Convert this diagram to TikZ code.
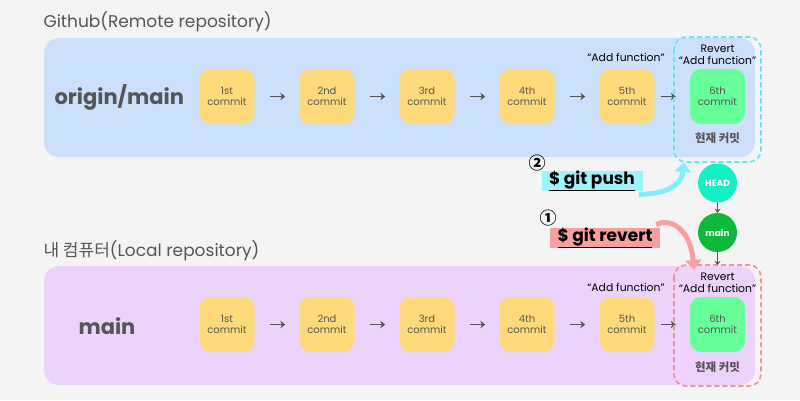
\documentclass[tikz,border=0pt]{standalone}
\usepackage{fontspec}
\setmainfont{Poppins}
\newfontfamily\kr{Noto Sans CJK KR}
\usetikzlibrary{arrows.meta}
\definecolor{bgc}{HTML}{F4F4F4}
\definecolor{bluep}{HTML}{CCE0FC}
\definecolor{purp}{HTML}{ECD3FC}
\definecolor{yel}{HTML}{FFDA7A}
\definecolor{grn}{HTML}{66FF9A}
\definecolor{teal2}{HTML}{14F0C4}
\definecolor{dgrn}{HTML}{0DB83A}
\definecolor{cyarr}{HTML}{7FF0FA}
\definecolor{cybox}{HTML}{9FF3FA}
\definecolor{cydash}{HTML}{5CE8F2}
\definecolor{pnk}{HTML}{F9A09E}
\definecolor{rdash}{HTML}{F59090}
\definecolor{txt}{HTML}{555555}
\tikzset{
  panel/.style={rounded corners=15pt, draw=none},
  commit/.style={rounded corners=11pt, minimum width=55pt, minimum height=55pt, inner sep=0pt,
    fill=yel, text=txt, align=center, font=\fontsize{10}{11.5}\selectfont},
  headc/.style={circle, minimum size=39pt, inner sep=0pt, text=white, font=\bfseries\fontsize{9}{10}\selectfont},
  garrow/.style={draw=txt, line width=1.8pt, -{Stealth[length=5pt,width=7.5pt]}},
  varrow/.style={draw=txt, line width=1.2pt, -{Stealth[length=4pt,width=6pt]}},
  title/.style={anchor=west, text=txt, font=\fontsize{17}{19}\selectfont},
  lbl/.style={text=black, font=\fontsize{10.8}{12}\selectfont, align=center, inner sep=0pt},
  cur/.style={text=txt, font=\kr\bfseries\fontsize{11.5}{12}\selectfont, inner sep=0pt},
  cmd/.style={inner sep=0pt, minimum height=19pt, font=\bfseries\fontsize{17}{18}\selectfont, text=black},
  dbox/.style={rounded corners=12pt, line width=1.6pt, dash pattern=on 5pt off 3pt}
}
\begin{document}
\begin{tikzpicture}[x=1pt,y=-1pt]
\useasboundingbox (0,0) rectangle (800,400);
\fill[bgc] (0,0) rectangle (800,400);
% panels
\fill[panel, bluep] (44,38) rectangle (755,157);
\fill[panel, purp] (44,266) rectangle (755,385);
\node[title] (ttop) at (40,22) {Github(Remote repository)};
\node[title] (tbot) at (40,251) {{\kr 내 컴퓨터}(Local repository)};
\node[text=txt, font=\bfseries\fontsize{21}{22}\selectfont, anchor=west] (om) at (51,97) {origin/main};
\node[text=txt, font=\bfseries\fontsize{21}{22}\selectfont, anchor=west] (lm) at (75,326) {main};
% commits
\foreach \i/\l/\x in {1/1st/227,2/2nd/327,3/3rd/427,4/4th/527,5/5th/627}{
  \node[commit] (t\i) at (\x,96.5) {\l\\commit};
  \node[commit] (b\i) at (\x,324.5) {\l\\commit};
}
\node[commit, fill=grn] (t6) at (717.5,96.5) {6th\\commit};
\node[commit, fill=grn] (b6) at (717.5,324.5) {6th\\commit};
\foreach \a/\b in {1/2,2/3,3/4,4/5}{
  \draw[garrow, shorten <=15pt, shorten >=14pt] (t\a) -- (t\b);
  \draw[garrow, shorten <=15pt, shorten >=14pt] (b\a) -- (b\b);
}
\draw[garrow, shorten <=6pt, shorten >=14pt] (t5) -- (t6);
\draw[garrow, shorten <=6pt, shorten >=14pt] (b5) -- (b6);
% labels
\node[lbl] (tl5) at (626,57) {“Add function”};
\node[lbl] (bl5) at (626,287) {“Add function”};
\node[lbl] (tl6) at (717.5,55) {Revert\\“Add function”};
\node[lbl] (bl6) at (717.5,283) {Revert\\“Add function”};
\node[cur] (tc6) at (717.5,138) {현재 커밋};
\node[cur] (bc6) at (717.5,367) {현재 커밋};
% dashed boxes
\draw[dbox, draw=cydash] (674,37) rectangle (761,162);
\draw[dbox, draw=rdash] (674,265) rectangle (761,386);
\coordinate (topbox) at (717.5,162);
\coordinate (botbox) at (717.5,265);
% HEAD / main
\node[headc, fill=teal2] (head) at (717.5,183) {HEAD};
\node[headc, fill=dgrn] (mn) at (717.5,232.5) {main};
\draw[varrow] (head) -- (mn);
\draw[varrow] (mn) -- (botbox);
% commands
\node[cmd, fill=cybox, minimum width=101pt] (push) at (592,181) {\underline{\$ git push}};
\node[cmd, fill=pnk, minimum width=110pt] (rev) at (605,238) {\underline{\$ git revert}};
\node[font=\kr\bfseries\fontsize{17}{18}\selectfont, inner sep=0pt] (n2) at (537,163) {②};
\node[font=\kr\bfseries\fontsize{17}{18}\selectfont, inner sep=0pt] (n1) at (548,218) {①};
% curved arrows
\coordinate (pushtip) at (684,162);
\coordinate (revtip) at (694,270);
\draw[draw=cyarr, line width=5pt, -{Triangle[length=10pt,width=16pt]}]
  ([xshift=-4pt,yshift=-3pt]push.south east) .. controls (672,194) and (682,182) .. (pushtip);
\draw[draw=pnk, line width=5pt, -{Triangle[length=10pt,width=16pt]}]
  ([xshift=-4pt,yshift=3pt]rev.north east) .. controls (668,218) and (690,226) .. (revtip);
\end{tikzpicture}
\end{document}
